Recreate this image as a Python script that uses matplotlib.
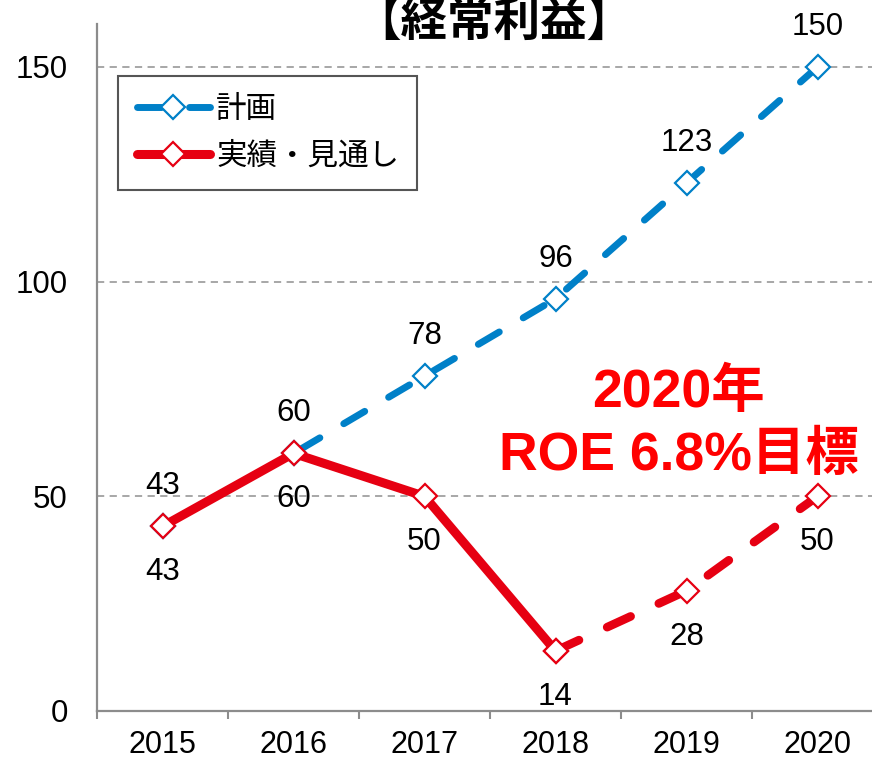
import matplotlib
matplotlib.use("Agg")
import matplotlib.pyplot as plt
import numpy as np

plt.rcParams['font.family'] = ['Liberation Sans', 'Noto Sans CJK JP', 'DejaVu Sans']

# data
years = ['2015', '2016', '2017', '2018', '2019', '2020']
plan = [43, 60, 78, 96, 123, 150]
actual = [43, 60, 50, 14, 28, 50]
last_actual = 3  # 2018: solid up to here, forecast dashed after
y_ticks = [0, 50, 100, 150]

BLUE = '#0080C8'
RED = '#E60012'
GRAY = '#8c8c8c'

fig = plt.figure(figsize=(8.72, 7.62), dpi=100)
# axes runs past the right edge, like the cropped original
ax = fig.add_axes([97 / 872, 51 / 762, 786 / 872, 687 / 762])

x = np.arange(len(years))
mk = dict(marker='D', markersize=12.5, markerfacecolor='white', markeredgewidth=1.6)

ax.plot(x, plan, color=BLUE, lw=5, dashes=(3.5, 4), dash_capstyle='round',
        markeredgecolor=BLUE, label='計画', zorder=3, **mk)
ax.plot(x[last_actual:], actual[last_actual:], color=RED, lw=6.2, dashes=(3, 3.6),
        dash_capstyle='round', markeredgecolor=RED, zorder=4, **mk)
ax.plot(x[:last_actual + 1], actual[:last_actual + 1], color=RED, lw=6.5,
        solid_capstyle='round', markeredgecolor=RED, label='実績・見通し', zorder=5, **mk)

for i, v in enumerate(plan):
    ax.annotate(str(v), (x[i], v), xytext=(0, 29), textcoords='offset points',
                ha='center', va='center', fontsize=22.5, zorder=6)
for i, v in enumerate(actual):
    ax.annotate(str(v), (x[i], v), xytext=(0, -33), textcoords='offset points',
                ha='center', va='center', fontsize=22.5, zorder=6)

ax.set_xlim(-0.5, len(years) - 0.5)
ax.set_ylim(0, 160)
ax.set_yticks(y_ticks)
ax.set_xticks(x)
ax.set_xticklabels(years)
ax.set_xticks(np.arange(len(years) + 1) - 0.5, minor=True)
ax.tick_params(axis='x', which='major', length=0, pad=14, labelsize=22)
ax.tick_params(axis='x', which='minor', length=6, width=1.5, color=GRAY)
ax.tick_params(axis='y', length=0, pad=21, labelsize=22.5)

ax.yaxis.grid(True, linestyle=(0, (4, 3)), color='#a0a0a0', lw=1.3)
ax.set_axisbelow(True)
for s in ['top', 'right']:
    ax.spines[s].set_visible(False)
for s in ['left', 'bottom']:
    ax.spines[s].set_color(GRAY)
    ax.spines[s].set_linewidth(1.6)

leg = ax.legend(loc='upper left', bbox_to_anchor=(0.027, 0.924), borderaxespad=0,
                fontsize=22, handlelength=2.4, handletextpad=0.2, borderpad=0.6,
                labelspacing=0.55, fancybox=False, framealpha=1)
leg.get_frame().set_edgecolor('#555555')
leg.get_frame().set_linewidth(1.5)

fig.text(494 / 872, 1 - 37 / 762, '【経常利益】', ha='center', va='baseline',
         fontsize=33.5, weight='bold')
fig.text(678 / 872, 1 - 407 / 762, '2020年', ha='center', va='baseline',
         fontsize=38.5, weight='bold', color='#FF0000')
fig.text(679 / 872, 1 - 470 / 762, 'ROE 6.8%目標', ha='center', va='baseline',
         fontsize=38.5, weight='bold', color='#FF0000')

fig.savefig('out.png', dpi=100)
